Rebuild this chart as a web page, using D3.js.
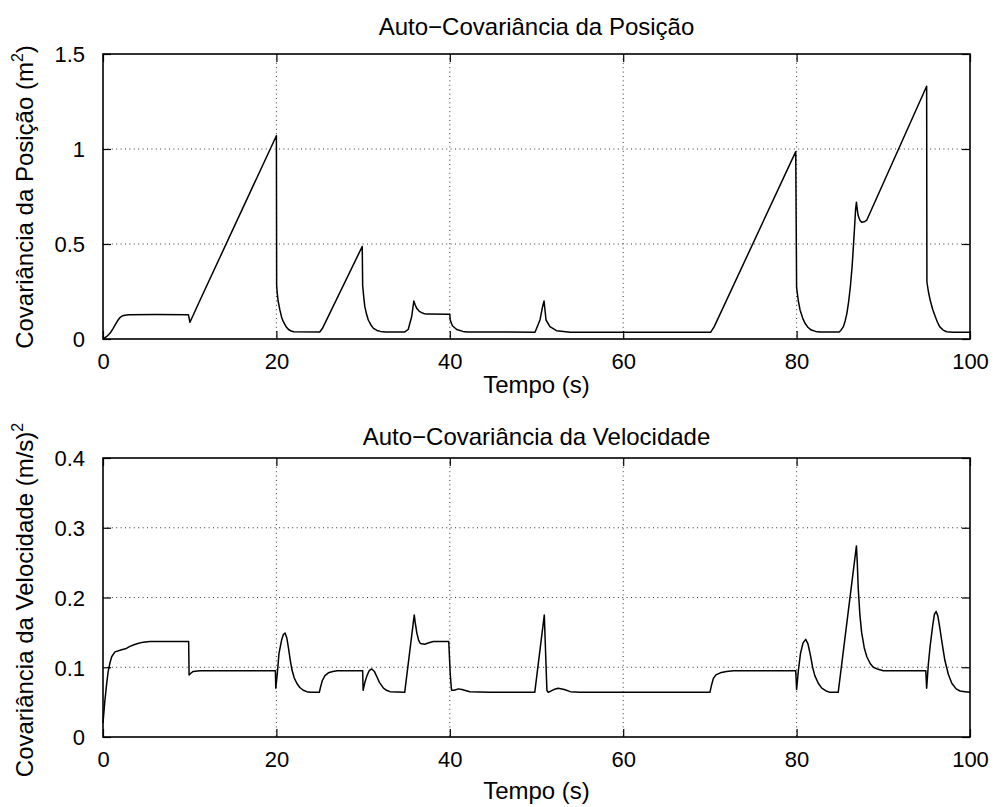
<!DOCTYPE html>
<html>
<head>
<meta charset="utf-8">
<script src="https://cdn.jsdelivr.net/npm/d3@7"></script>
<style>
  html, body { margin: 0; padding: 0; background: #fff; }
  svg { display: block; font-family: "Liberation Sans", Arial, Helvetica, sans-serif; }
</style>
</head>
<body>
<svg id="chart" width="995" height="807"></svg>
<script>
// ---------- data ----------
const xTicks = [0, 20, 40, 60, 80, 100];
const posTicks = [0, 0.5, 1, 1.5];
const velTicks = [0, 0.1, 0.2, 0.3, 0.4];

const posTime = [0, 0.4, 0.8, 1.1, 1.4, 1.7, 1.96, 2.2, 2.5, 3, 6.1, 9.85, 10.03, 11.2, 20,
  20.03, 20.1, 20.2, 20.4, 20.6, 20.8, 21.1, 21.4, 21.7, 22, 25, 25.3, 29.9,
  29.95, 30.1, 30.2, 30.4, 30.6, 30.9, 31.2, 31.6, 32, 32.6, 34.8, 35.2, 35.6, 35.85,
  36.0, 36.2, 36.45, 36.75, 37.0, 37.3, 40, 40.05, 40.3, 40.8, 41.5, 42,
  49.83, 50.4, 50.7, 50.87, 51.1, 51.55, 52.3, 53.9, 70.1, 70.5, 79.9,
  80.0, 80.2, 80.4, 80.7, 80.97, 81.3, 81.7, 82.2, 82.7, 84.9, 85.1, 85.4, 85.6, 85.8,
  86.0, 86.2, 86.4, 86.55, 86.7, 86.8, 86.9, 87.0, 87.1, 87.3, 87.5, 87.8, 88.1, 95,
  95.03, 95.2, 95.4, 95.7, 96, 96.25, 96.5, 96.9, 97.3, 98, 100];
const posValue = [0, 0.012, 0.03, 0.05, 0.074, 0.097, 0.113, 0.121, 0.125, 0.127, 0.129, 0.128, 0.088, 0.205, 1.07,
  0.28, 0.24, 0.2, 0.153, 0.115, 0.091, 0.066, 0.05, 0.042, 0.038, 0.037, 0.055, 0.487,
  0.28, 0.21, 0.17, 0.13, 0.1, 0.074, 0.056, 0.045, 0.04, 0.037, 0.037, 0.05, 0.117, 0.2,
  0.18, 0.16, 0.147, 0.139, 0.134, 0.131, 0.13, 0.1, 0.07, 0.05, 0.04, 0.037,
  0.036, 0.1, 0.17, 0.2, 0.1, 0.065, 0.044, 0.036, 0.036, 0.065, 0.986,
  0.27, 0.2, 0.153, 0.11, 0.083, 0.062, 0.047, 0.04, 0.037, 0.037, 0.045, 0.065, 0.095, 0.135,
  0.195, 0.275, 0.38, 0.486, 0.6, 0.68, 0.72, 0.68, 0.65, 0.625, 0.615, 0.617, 0.626, 1.33,
  0.30, 0.25, 0.205, 0.155, 0.117, 0.088, 0.065, 0.047, 0.038, 0.036, 0.036];

const velTime = [0, 0.2, 0.43, 0.6, 0.8, 1.0, 1.38, 2.15, 2.7, 3.1, 3.5, 4.0, 4.65, 5.4, 6.2, 9.88,
  9.93, 10.1, 10.4, 11.2, 19.88,
  19.93, 20.1, 20.3, 20.6, 20.8, 21.0, 21.2, 21.4, 21.6, 21.8, 22.05, 22.35, 22.7, 23.1, 23.5, 23.9, 24.95,
  25.1, 25.3, 25.6, 26.0, 26.5, 27.0, 29.95,
  30.0, 30.2, 30.45, 30.7, 31.0, 31.3, 31.6, 31.9, 32.35, 32.7, 33.1, 34.8,
  35.9, 36.0, 36.2, 36.4, 36.6, 37.1, 37.6, 38.1, 39.88,
  40.05, 40.2, 40.5, 41.0, 41.4, 42.3, 44.6, 49.8,
  50.9, 51.2, 51.35, 52.0, 52.5, 53.2, 53.9, 55, 70.0,
  70.2, 70.4, 70.7, 71.2, 71.9, 72.7, 79.9,
  80.0, 80.2, 80.45, 80.75, 81.05, 81.3, 81.6, 81.85, 82.1, 82.5, 82.9, 83.4, 83.85, 84.8,
  86.9, 87.0, 87.1, 87.3, 87.5, 87.8, 88.1, 88.5, 88.85, 89.4, 90.0, 94.9,
  95.0, 95.2, 95.4, 95.7, 95.9, 96.1, 96.3, 96.5, 96.8, 97.1, 97.5, 97.9, 98.4, 98.85, 99.4, 100];
const velValue = [0.02, 0.05, 0.077, 0.094, 0.106, 0.115, 0.122, 0.125, 0.127, 0.13, 0.132, 0.134, 0.136, 0.137, 0.137, 0.137,
  0.089, 0.091, 0.094, 0.095, 0.095,
  0.07, 0.09, 0.12, 0.139, 0.147, 0.149, 0.142, 0.127, 0.11, 0.096, 0.085, 0.077, 0.071, 0.067, 0.065, 0.064, 0.064,
  0.072, 0.081, 0.088, 0.092, 0.094, 0.095, 0.095,
  0.067, 0.078, 0.088, 0.095, 0.0975, 0.094, 0.086, 0.078, 0.07, 0.067, 0.065, 0.064,
  0.175, 0.165, 0.149, 0.139, 0.134, 0.133, 0.135, 0.137, 0.137,
  0.09, 0.067, 0.067, 0.069, 0.068, 0.065, 0.064, 0.064,
  0.175, 0.067, 0.064, 0.068, 0.07, 0.068, 0.065, 0.064, 0.064,
  0.075, 0.084, 0.089, 0.092, 0.094, 0.095, 0.095,
  0.068, 0.095, 0.12, 0.135, 0.14, 0.134, 0.117, 0.1, 0.088, 0.077, 0.07, 0.066, 0.064, 0.064,
  0.274, 0.25, 0.215, 0.175, 0.15, 0.128, 0.115, 0.105, 0.1, 0.097, 0.095, 0.095,
  0.07, 0.105, 0.13, 0.16, 0.176, 0.18, 0.173, 0.158, 0.133, 0.11, 0.09, 0.077, 0.069, 0.066, 0.065, 0.064];

// ---------- drawing ----------
const svg = d3.select("#chart");
svg.append("rect").attr("width", 995).attr("height", 807).attr("fill", "#fff");

const X0 = 103, X1 = 970;
const tickFont = 22, labelFont = 24, titleFont = 24, tickLen = 8;

function panel(cfg) {
  const x = d3.scaleLinear().domain([0, 100]).range([X0, X1]);
  const y = d3.scaleLinear().domain(cfg.yDomain).range([cfg.bottom, cfg.top]);
  const g = svg.append("g");

  // grid (dotted)
  const grid = g.append("g").attr("stroke", "#000").attr("stroke-width", 1)
    .attr("stroke-dasharray", "1,3.4").attr("opacity", 0.8);
  xTicks.slice(1, -1).forEach(t => {
    grid.append("line").attr("x1", x(t)).attr("x2", x(t))
      .attr("y1", cfg.top).attr("y2", cfg.bottom);
  });
  cfg.yTicks.slice(1, -1).forEach(t => {
    grid.append("line").attr("x1", X0).attr("x2", X1)
      .attr("y1", y(t)).attr("y2", y(t));
  });

  // axes with inward ticks
  const bottomAx = g.append("g").attr("transform", `translate(0,${cfg.bottom})`)
    .call(d3.axisBottom(x).tickValues(xTicks).tickFormat(d3.format("d")).tickSizeInner(-tickLen).tickSizeOuter(0).tickPadding(tickLen + 6));
  const topAx = g.append("g").attr("transform", `translate(0,${cfg.top})`)
    .call(d3.axisTop(x).tickValues(xTicks).tickFormat("").tickSizeInner(-tickLen).tickSizeOuter(0));
  const leftAx = g.append("g").attr("transform", `translate(${X0},0)`)
    .call(d3.axisLeft(y).tickValues(cfg.yTicks).tickFormat(d => String(d)).tickSizeInner(-tickLen).tickSizeOuter(0).tickPadding(tickLen + 10));
  const rightAx = g.append("g").attr("transform", `translate(${X1},0)`)
    .call(d3.axisRight(y).tickValues(cfg.yTicks).tickFormat("").tickSizeInner(-tickLen).tickSizeOuter(0));
  [bottomAx, topAx, leftAx, rightAx].forEach(a => {
    a.select(".domain").remove();
    a.selectAll("line").attr("stroke", "#000").attr("stroke-width", 1.2);
    a.selectAll("text").attr("font-size", tickFont).attr("fill", "#000")
      .attr("font-family", "Liberation Sans, Arial, sans-serif");
  });
  leftAx.selectAll("text").attr("dy", "0.36em");
  bottomAx.selectAll("text").attr("dy", "0.72em");

  // data line
  const data = cfg.t.map((t, i) => [t, cfg.v[i]]);
  g.append("path").datum(data)
    .attr("fill", "none").attr("stroke", "#000").attr("stroke-width", 1.5)
    .attr("stroke-linejoin", "round")
    .attr("d", d3.line().x(d => x(d[0])).y(d => y(d[1])));

  // frame
  g.append("rect").attr("x", X0).attr("y", cfg.top)
    .attr("width", X1 - X0).attr("height", cfg.bottom - cfg.top)
    .attr("fill", "none").attr("stroke", "#000").attr("stroke-width", 1.6);

  // title
  g.append("text").attr("x", (X0 + X1) / 2).attr("y", cfg.titleY)
    .attr("text-anchor", "middle").attr("font-size", titleFont).text(cfg.title);
  // x label
  g.append("text").attr("x", (X0 + X1) / 2).attr("y", cfg.xLabelY)
    .attr("text-anchor", "middle").attr("font-size", labelFont).text("Tempo (s)");
  // y label
  const yl = g.append("text")
    .attr("transform", `translate(${cfg.yLabelX},${cfg.yLabelCY}) rotate(-90)`)
    .attr("text-anchor", "middle").attr("font-size", labelFont);
  yl.append("tspan").text(cfg.yLabel[0]);
  yl.append("tspan").attr("dy", -10).attr("font-size", 16).text("2");
  yl.append("tspan").attr("dy", 10).text(cfg.yLabel[1]);
}

panel({
  top: 54, bottom: 339, yDomain: [0, 1.5], yTicks: posTicks,
  t: posTime, v: posValue,
  title: "Auto\u2212Covariância da Posição", titleY: 35,
  xLabelY: 393, yLabelX: 33, yLabelCY: 197,
  yLabel: ["Covariância da Posição (m", ")"]
});

panel({
  top: 458, bottom: 737, yDomain: [0, 0.4], yTicks: velTicks,
  t: velTime, v: velValue,
  title: "Auto\u2212Covariância da Velocidade", titleY: 445,
  xLabelY: 799, yLabelX: 33, yLabelCY: 600,
  yLabel: ["Covariância da Velocidade (m/s)", ""]
});
</script>
</body>
</html>
